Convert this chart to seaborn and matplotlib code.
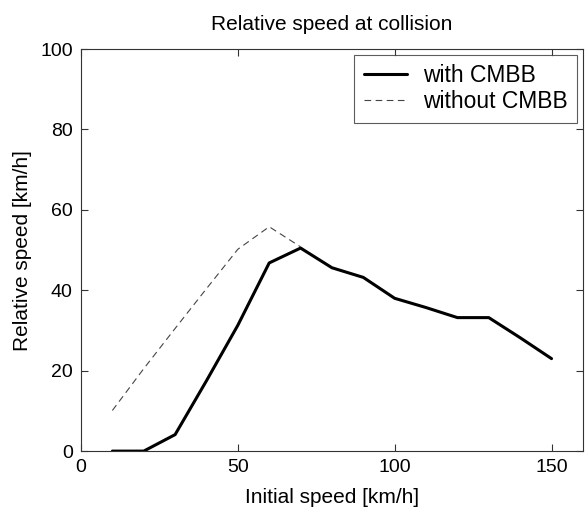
import matplotlib
matplotlib.use("Agg")
import matplotlib.pyplot as plt
import seaborn as sns
import pandas as pd

# Data
speed_with = [10, 20, 30, 40, 50, 60, 70, 80, 90, 100, 110, 120, 130, 140, 150]
rel_with = [0, 0, 4.1, 17.5, 31.3, 46.8, 50.5, 45.6, 43.2, 38.0, 35.7, 33.2, 33.2, 28.2, 23.0]
speed_without = [10, 20, 30, 40, 50, 60, 70]
rel_without = [10.1, 20.5, 30.5, 40.4, 50.2, 55.8, 50.8]
xticks = [0, 50, 100, 150]
yticks = [0, 20, 40, 60, 80, 100]

sns.set_style("white")
plt.rcParams['font.family'] = ['Liberation Sans', 'DejaVu Sans']
plt.rcParams['text.color'] = 'black'
plt.rcParams['axes.labelcolor'] = 'black'

fig = plt.figure(figsize=(5.87, 5.08), dpi=100)
ax = fig.add_axes([0.138, 0.112, 0.855, 0.7915])

df_with = pd.DataFrame({"x": speed_with, "y": rel_with})
df_without = pd.DataFrame({"x": speed_without, "y": rel_without})

sns.lineplot(data=df_with, x="x", y="y", ax=ax, color="black", linewidth=2.2,
             label="with CMBB")
sns.lineplot(data=df_without, x="x", y="y", ax=ax, color="#444444", linewidth=0.8,
             linestyle=(0, (6, 4)), label="without CMBB")

ax.set_xlim(0, 160)
ax.set_ylim(0, 100)
ax.set_xticks(xticks)
ax.set_yticks(yticks)
ax.tick_params(direction="in", length=5, width=0.8, colors="#333333",
               labelcolor="black", labelsize=14, top=True, right=True,
               left=True, bottom=True, pad=6)
for s in ax.spines.values():
    s.set_visible(True)
    s.set_color("#333333")
    s.set_linewidth(0.8)

ax.set_title("Relative speed at collision", fontsize=15, pad=14, color="black")
ax.set_xlabel("Initial speed [km/h]", fontsize=15, labelpad=8, color="black")
ax.set_ylabel("Relative speed [km/h]", fontsize=15, labelpad=6, color="black")

leg = ax.legend(loc="upper right", fontsize=16.5, frameon=True, fancybox=False,
                handlelength=1.9, borderpad=0.4, labelspacing=0.15,
                borderaxespad=0.25, handletextpad=0.7)
leg.get_frame().set_edgecolor("#333333")
leg.get_frame().set_linewidth(0.8)
for t in leg.get_texts():
    t.set_color("black")

fig.savefig("out.png", dpi=100)
